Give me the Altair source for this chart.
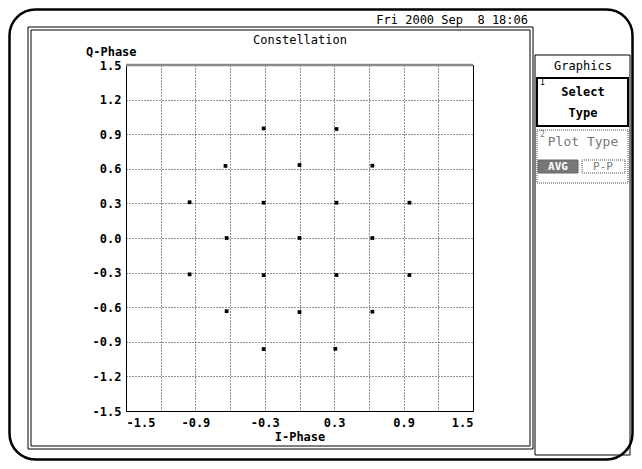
import json
import altair as alt
import pandas as pd

# ---- data ----
i_phase = [-0.31, 0.32, -0.64, 0.00, 0.63,
           -0.95, -0.31, 0.32, 0.95,
           -0.63, 0.00, 0.63,
           -0.95, -0.31, 0.32, 0.95,
           -0.63, 0.00, 0.63,
           -0.31, 0.31]
q_phase = [0.95, 0.945, 0.625, 0.633, 0.627,
           0.31, 0.306, 0.306, 0.306,
           0.0, 0.0, 0.0,
           -0.315, -0.322, -0.321, -0.321,
           -0.634, -0.642, -0.639,
           -0.963, -0.961]

grid_values = [-1.5, -1.2, -0.9, -0.6, -0.3, 0.0, 0.3, 0.6, 0.9, 1.2, 1.5]
x_labels = ["-1.5", "-0.9", "-0.3", "0.3", "0.9", "1.5"]
y_labels = ["1.5", "1.2", "0.9", "0.6", "0.3", "0.0", "-0.3", "-0.6", "-0.9", "-1.2", "-1.5"]

title_text = "Constellation"
date_text = "Fri 2000 Sep\u00a0 8 18:06"
x_title = "I-Phase"
y_title = "Q-Phase"
panel_title = "Graphics"
key1_lines = ["Select", "Type"]
key2_title = "Plot Type"
key2_opts = ["AVG", "P-P"]

FONT = "DejaVu Sans Mono"
OX, OY = 126, 65  # page position of the plot origin


def px(v):
    return v - OX


def py(v):
    return v - OY


one = pd.DataFrame({"k": [0]})
base = alt.Chart(one)


def box(x1, y1, x2, y2, **kw):
    return base.mark_rect(**kw).encode(
        x=alt.value(px(x1)), x2=alt.value(px(x2)),
        y=alt.value(py(y1)), y2=alt.value(py(y2)))


def hline(x1, x2, y, **kw):
    return base.mark_rule(**kw).encode(
        x=alt.value(px(x1)), x2=alt.value(px(x2)), y=alt.value(py(y)))


def label(x, y, text, **kw):
    kw.setdefault("font", FONT)
    kw.setdefault("fontSize", 12)
    kw.setdefault("color", "black")
    kw.setdefault("baseline", "middle")
    return base.mark_text(text=text, **kw).encode(
        x=alt.value(px(x)), y=alt.value(py(y)))


outline = dict(fillOpacity=0, stroke="black", strokeWidth=1)

deco = [
    # outer rounded screen frame
    box(9.5, 9.5, 632.5, 459.5, cornerRadius=26, fillOpacity=0, stroke="black", strokeWidth=2.5),
    # main panel double frame
    box(28, 27, 533, 449, **outline),
    box(31, 30, 530, 446, **outline),
    # right panel
    box(535, 55, 630, 455, **outline),
    box(537, 78, 628, 126, fillOpacity=0, stroke="black", strokeWidth=2),
    box(537, 130, 628, 183, fillOpacity=0, stroke="#888", strokeWidth=1.5, strokeDash=[1, 1]),
    box(538, 160, 578, 173, fill="#777", stroke="#666", strokeWidth=1),
    box(582, 160, 625, 173, fillOpacity=0, stroke="#888", strokeWidth=1.5, strokeDash=[1, 1]),
    # top gray edge of plot
    hline(126, 473, 65, stroke="#888", strokeWidth=2.5),
    # texts
    label(528, 20, date_text, align="right"),
    label(300, 40, title_text, align="center"),
    label(86, 52, y_title, align="left", fontWeight="bold"),
    label(300, 437, x_title, align="center", fontWeight="bold"),
    label(583, 66, panel_title, align="center"),
    label(540, 83, "1", align="left", fontSize=8),
    label(583, 92, key1_lines[0], align="center", fontWeight="bold"),
    label(583, 113, key1_lines[1], align="center", fontWeight="bold"),
    label(540, 135, "2", align="left", fontSize=8, color="#777"),
    label(583, 142, key2_title, align="center", color="#777", fontSize=13),
    label(558, 167, key2_opts[0], align="center", color="white", fontWeight="bold", fontSize=11),
    label(603, 167, key2_opts[1], align="center", color="#777", fontSize=11),
]

x_codes = [round(float(s) * 10) for s in x_labels]
y_codes = [round(float(s) * 10) for s in y_labels]
fmt = "(datum.value < -0.001 ? '-' : '') + format(abs(datum.value), '.1f')"
x_expr = "indexof(%s, round(datum.value * 10)) >= 0 ? %s : ''" % (json.dumps(x_codes), fmt)
y_expr = "indexof(%s, round(datum.value * 10)) >= 0 ? %s : ''" % (json.dumps(y_codes), fmt)

axis_common = dict(
    values=grid_values, title=None, ticks=False, domain=False, grid=True,
    gridColor="black", gridDash=[1, 2], gridOpacity=0.85, gridWidth=1,
    labelFont=FONT, labelFontSize=12, labelFontWeight="bold", labelColor="black",
)

points = alt.Chart(pd.DataFrame({"I": i_phase, "Q": q_phase})).mark_square(
    size=14, color="black", opacity=1
).encode(
    x=alt.X("I:Q", scale=alt.Scale(domain=[-1.5, 1.5], nice=False, zero=False),
            axis=alt.Axis(labelExpr=x_expr, labelPadding=6, **axis_common)),
    y=alt.Y("Q:Q", scale=alt.Scale(domain=[-1.5, 1.5], nice=False, zero=False),
            axis=alt.Axis(labelExpr=y_expr, labelPadding=5, **axis_common)),
)

chart = alt.layer(*deco, points).properties(
    width=347, height=346,
    autosize=alt.AutoSizeParams(type="none"),
    padding={"left": 118, "top": 57, "right": 161, "bottom": 50},
    background="white",
).configure_view(stroke="black", strokeWidth=1)

chart.save("out.html", embed_options={"renderer": "svg", "actions": False})
